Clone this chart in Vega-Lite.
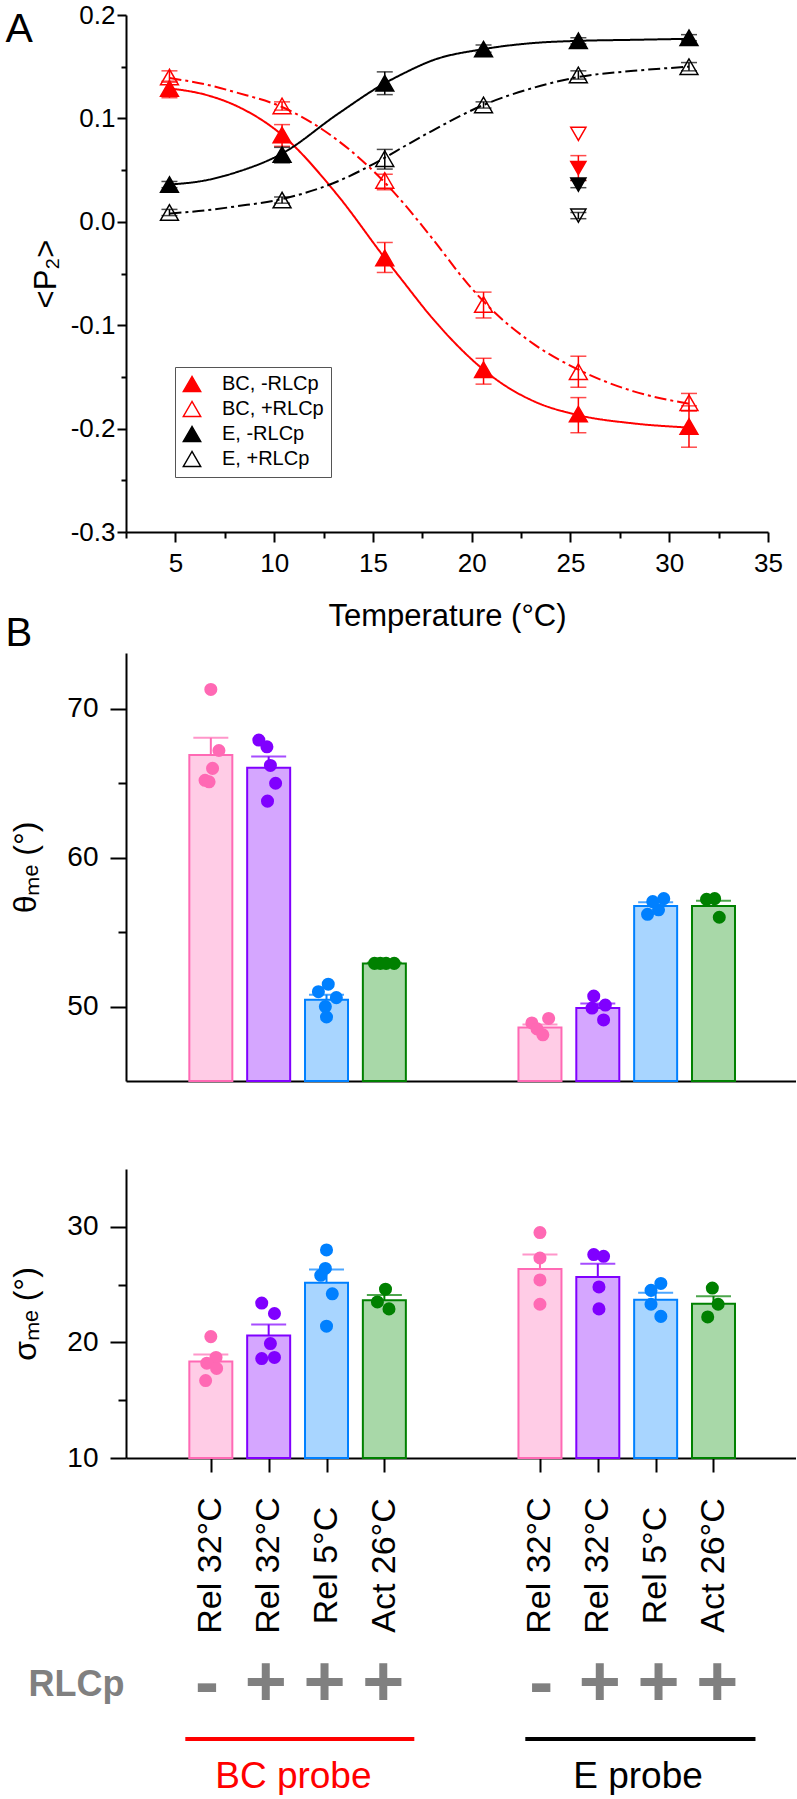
{
 "$schema": "https://vega.github.io/schema/vega-lite/v6.json",
 "padding": {"left": 5, "top": 2, "right": 0, "bottom": 0},
 "background": "white",
 "config": {
  "font": "Liberation Sans",
  "view": {"stroke": null},
  "axis": {"grid": false, "domainColor": "black", "tickColor": "black", "labelColor": "black", "titleColor": "black", "domainWidth": 2, "tickWidth": 2, "titleFontWeight": "normal", "labelFont": "Liberation Sans", "titleFont": "Liberation Sans", "labelFlush": false, "labelOverlap": false}
 },
 "datasets": {
  "curves": [
   {"series": "BC, -RLCp", "t": 4.7, "p": 0.129}, {"series": "BC, -RLCp", "t": 6.5, "p": 0.123}, {"series": "BC, -RLCp", "t": 8.1, "p": 0.112}, {"series": "BC, -RLCp", "t": 10.4, "p": 0.084}, {"series": "BC, -RLCp", "t": 13.2, "p": 0.026}, {"series": "BC, -RLCp", "t": 15.6, "p": -0.035}, {"series": "BC, -RLCp", "t": 16.5, "p": -0.057}, {"series": "BC, -RLCp", "t": 18.0, "p": -0.093}, {"series": "BC, -RLCp", "t": 20.6, "p": -0.143}, {"series": "BC, -RLCp", "t": 21.5, "p": -0.156}, {"series": "BC, -RLCp", "t": 23.2, "p": -0.174}, {"series": "BC, -RLCp", "t": 25.4, "p": -0.187}, {"series": "BC, -RLCp", "t": 28.2, "p": -0.195}, {"series": "BC, -RLCp", "t": 31.0, "p": -0.199},
   {"series": "BC, +RLCp", "t": 4.7, "p": 0.139}, {"series": "BC, +RLCp", "t": 6.5, "p": 0.133}, {"series": "BC, +RLCp", "t": 8.1, "p": 0.125}, {"series": "BC, +RLCp", "t": 10.4, "p": 0.111}, {"series": "BC, +RLCp", "t": 13.2, "p": 0.079}, {"series": "BC, +RLCp", "t": 15.6, "p": 0.038}, {"series": "BC, +RLCp", "t": 16.5, "p": 0.019}, {"series": "BC, +RLCp", "t": 18.0, "p": -0.016}, {"series": "BC, +RLCp", "t": 19.8, "p": -0.06}, {"series": "BC, +RLCp", "t": 20.6, "p": -0.077}, {"series": "BC, +RLCp", "t": 23.2, "p": -0.119}, {"series": "BC, +RLCp", "t": 25.4, "p": -0.143}, {"series": "BC, +RLCp", "t": 28.2, "p": -0.164}, {"series": "BC, +RLCp", "t": 31.0, "p": -0.176},
   {"series": "E, -RLCp", "t": 4.7, "p": 0.036}, {"series": "E, -RLCp", "t": 6.5, "p": 0.04}, {"series": "E, -RLCp", "t": 8.1, "p": 0.048}, {"series": "E, -RLCp", "t": 10.4, "p": 0.066}, {"series": "E, -RLCp", "t": 13.2, "p": 0.104}, {"series": "E, -RLCp", "t": 15.6, "p": 0.134}, {"series": "E, -RLCp", "t": 16.5, "p": 0.143}, {"series": "E, -RLCp", "t": 18.0, "p": 0.156}, {"series": "E, -RLCp", "t": 20.6, "p": 0.167}, {"series": "E, -RLCp", "t": 23.2, "p": 0.173}, {"series": "E, -RLCp", "t": 25.4, "p": 0.175}, {"series": "E, -RLCp", "t": 28.2, "p": 0.176}, {"series": "E, -RLCp", "t": 31.0, "p": 0.177},
   {"series": "E, +RLCp", "t": 4.7, "p": 0.008}, {"series": "E, +RLCp", "t": 6.5, "p": 0.011}, {"series": "E, +RLCp", "t": 8.1, "p": 0.015}, {"series": "E, +RLCp", "t": 10.4, "p": 0.022}, {"series": "E, +RLCp", "t": 13.2, "p": 0.039}, {"series": "E, +RLCp", "t": 15.6, "p": 0.062}, {"series": "E, +RLCp", "t": 16.5, "p": 0.072}, {"series": "E, +RLCp", "t": 18.0, "p": 0.088}, {"series": "E, +RLCp", "t": 20.6, "p": 0.113}, {"series": "E, +RLCp", "t": 23.2, "p": 0.13}, {"series": "E, +RLCp", "t": 25.4, "p": 0.14}, {"series": "E, +RLCp", "t": 28.2, "p": 0.146}, {"series": "E, +RLCp", "t": 31.0, "p": 0.15}
  ],
  "markers": [
   {"series": "BC, -RLCp", "kind": "fit", "t": 4.7, "p": 0.129, "lo": 0.12, "hi": 0.136},
   {"series": "BC, -RLCp", "kind": "fit", "t": 10.4, "p": 0.084, "lo": 0.073, "hi": 0.094},
   {"series": "BC, -RLCp", "kind": "fit", "t": 15.6, "p": -0.035, "lo": -0.049, "hi": -0.02},
   {"series": "BC, -RLCp", "kind": "fit", "t": 20.6, "p": -0.143, "lo": -0.157, "hi": -0.132},
   {"series": "BC, -RLCp", "kind": "fit", "t": 25.4, "p": -0.186, "lo": -0.204, "hi": -0.17},
   {"series": "BC, -RLCp", "kind": "fit", "t": 31.0, "p": -0.198, "lo": -0.218, "hi": -0.178},
   {"series": "BC, +RLCp", "kind": "fit", "t": 4.7, "p": 0.14, "lo": 0.135, "hi": 0.146},
   {"series": "BC, +RLCp", "kind": "fit", "t": 10.4, "p": 0.112, "lo": 0.108, "hi": 0.116},
   {"series": "BC, +RLCp", "kind": "fit", "t": 15.6, "p": 0.04, "lo": 0.031, "hi": 0.046},
   {"series": "BC, +RLCp", "kind": "fit", "t": 20.6, "p": -0.08, "lo": -0.093, "hi": -0.068},
   {"series": "BC, +RLCp", "kind": "fit", "t": 25.4, "p": -0.145, "lo": -0.16, "hi": -0.13},
   {"series": "BC, +RLCp", "kind": "fit", "t": 31.0, "p": -0.175, "lo": -0.183, "hi": -0.166},
   {"series": "E, -RLCp", "kind": "fit", "t": 4.7, "p": 0.036, "lo": 0.033, "hi": 0.039},
   {"series": "E, -RLCp", "kind": "fit", "t": 10.4, "p": 0.065, "lo": 0.057, "hi": 0.072},
   {"series": "E, -RLCp", "kind": "fit", "t": 15.6, "p": 0.134, "lo": 0.123, "hi": 0.145},
   {"series": "E, -RLCp", "kind": "fit", "t": 20.6, "p": 0.167, "lo": 0.164, "hi": 0.171},
   {"series": "E, -RLCp", "kind": "fit", "t": 25.4, "p": 0.175, "lo": 0.172, "hi": 0.178},
   {"series": "E, -RLCp", "kind": "fit", "t": 31.0, "p": 0.178, "lo": 0.175, "hi": 0.181},
   {"series": "E, +RLCp", "kind": "fit", "t": 4.7, "p": 0.009, "lo": 0.006, "hi": 0.012},
   {"series": "E, +RLCp", "kind": "fit", "t": 10.4, "p": 0.021, "lo": 0.018, "hi": 0.024},
   {"series": "E, +RLCp", "kind": "fit", "t": 15.6, "p": 0.061, "lo": 0.051, "hi": 0.07},
   {"series": "E, +RLCp", "kind": "fit", "t": 20.6, "p": 0.113, "lo": 0.11, "hi": 0.116},
   {"series": "E, +RLCp", "kind": "fit", "t": 25.4, "p": 0.142, "lo": 0.138, "hi": 0.146},
   {"series": "E, +RLCp", "kind": "fit", "t": 31.0, "p": 0.15, "lo": 0.146, "hi": 0.154},
   {"series": "BC, -RLCp", "kind": "extra", "t": 25.4, "p": 0.052, "lo": 0.04, "hi": 0.064},
   {"series": "BC, +RLCp", "kind": "extra", "t": 25.4, "p": 0.085, "lo": null, "hi": null},
   {"series": "E, -RLCp", "kind": "extra", "t": 25.4, "p": 0.036, "lo": 0.033, "hi": 0.04},
   {"series": "E, +RLCp", "kind": "extra", "t": 25.4, "p": 0.006, "lo": 0.003, "hi": 0.009}
  ],
  "bars": [
   {"pos": 1, "series": "Rel 32°C, -RLCp", "theta": 66.9, "thetaHi": 68.05, "sigma": 18.35, "sigmaHi": 18.95},
   {"pos": 2, "series": "Rel 32°C, +RLCp", "theta": 66.05, "thetaHi": 66.8, "sigma": 20.6, "sigmaHi": 21.55},
   {"pos": 3, "series": "Rel 5°C, +RLCp", "theta": 50.45, "thetaHi": 50.8, "sigma": 25.15, "sigmaHi": 26.3},
   {"pos": 4, "series": "Act 26°C, +RLCp", "theta": 52.9, "thetaHi": 52.95, "sigma": 23.65, "sigmaHi": 24.1},
   {"pos": 6.69, "series": "Rel 32°C, -RLCp", "theta": 48.6, "thetaHi": 48.8, "sigma": 26.35, "sigmaHi": 27.6},
   {"pos": 7.69, "series": "Rel 32°C, +RLCp", "theta": 49.9, "thetaHi": 50.2, "sigma": 25.65, "sigmaHi": 26.8},
   {"pos": 8.69, "series": "Rel 5°C, +RLCp", "theta": 56.75, "thetaHi": 57.0, "sigma": 23.7, "sigmaHi": 24.3},
   {"pos": 9.69, "series": "Act 26°C, +RLCp", "theta": 56.75, "thetaHi": 57.1, "sigma": 23.35, "sigmaHi": 24.0}
  ],
  "thetaPts": [
   {"series": "Rel 32°C, -RLCp", "x": 1.0, "v": 71.3}, {"series": "Rel 32°C, -RLCp", "x": 1.14, "v": 67.2}, {"series": "Rel 32°C, -RLCp", "x": 1.03, "v": 66.0}, {"series": "Rel 32°C, -RLCp", "x": 0.9, "v": 65.2}, {"series": "Rel 32°C, -RLCp", "x": 0.97, "v": 65.1},
   {"series": "Rel 32°C, +RLCp", "x": 1.83, "v": 67.9}, {"series": "Rel 32°C, +RLCp", "x": 1.97, "v": 67.45}, {"series": "Rel 32°C, +RLCp", "x": 2.03, "v": 66.2}, {"series": "Rel 32°C, +RLCp", "x": 2.12, "v": 65.0}, {"series": "Rel 32°C, +RLCp", "x": 1.98, "v": 63.8},
   {"series": "Rel 5°C, +RLCp", "x": 3.03, "v": 51.5}, {"series": "Rel 5°C, +RLCp", "x": 2.86, "v": 51.0}, {"series": "Rel 5°C, +RLCp", "x": 3.17, "v": 50.6}, {"series": "Rel 5°C, +RLCp", "x": 2.98, "v": 50.0}, {"series": "Rel 5°C, +RLCp", "x": 3.0, "v": 49.3},
   {"series": "Act 26°C, +RLCp", "x": 3.83, "v": 52.9}, {"series": "Act 26°C, +RLCp", "x": 3.93, "v": 52.9}, {"series": "Act 26°C, +RLCp", "x": 4.03, "v": 52.9}, {"series": "Act 26°C, +RLCp", "x": 4.17, "v": 52.9},
   {"series": "Rel 32°C, -RLCp", "x": 6.55, "v": 48.9}, {"series": "Rel 32°C, -RLCp", "x": 6.84, "v": 49.2}, {"series": "Rel 32°C, -RLCp", "x": 6.64, "v": 48.5}, {"series": "Rel 32°C, -RLCp", "x": 6.74, "v": 48.1},
   {"series": "Rel 32°C, +RLCp", "x": 7.62, "v": 50.7}, {"series": "Rel 32°C, +RLCp", "x": 7.82, "v": 50.1}, {"series": "Rel 32°C, +RLCp", "x": 7.59, "v": 49.9}, {"series": "Rel 32°C, +RLCp", "x": 7.79, "v": 49.1},
   {"series": "Rel 5°C, +RLCp", "x": 8.64, "v": 57.05}, {"series": "Rel 5°C, +RLCp", "x": 8.83, "v": 57.25}, {"series": "Rel 5°C, +RLCp", "x": 8.74, "v": 56.5}, {"series": "Rel 5°C, +RLCp", "x": 8.55, "v": 56.2},
   {"series": "Act 26°C, +RLCp", "x": 9.57, "v": 57.2}, {"series": "Act 26°C, +RLCp", "x": 9.71, "v": 57.25}, {"series": "Act 26°C, +RLCp", "x": 9.79, "v": 56.0}
  ],
  "sigmaPts": [
   {"series": "Rel 32°C, -RLCp", "x": 1.0, "v": 20.5}, {"series": "Rel 32°C, -RLCp", "x": 1.09, "v": 18.7}, {"series": "Rel 32°C, -RLCp", "x": 0.93, "v": 18.2}, {"series": "Rel 32°C, -RLCp", "x": 1.1, "v": 17.75}, {"series": "Rel 32°C, -RLCp", "x": 0.91, "v": 16.7},
   {"series": "Rel 32°C, +RLCp", "x": 1.88, "v": 23.4}, {"series": "Rel 32°C, +RLCp", "x": 2.1, "v": 22.5}, {"series": "Rel 32°C, +RLCp", "x": 2.03, "v": 19.9}, {"series": "Rel 32°C, +RLCp", "x": 1.88, "v": 18.6}, {"series": "Rel 32°C, +RLCp", "x": 2.1, "v": 18.7},
   {"series": "Rel 5°C, +RLCp", "x": 3.0, "v": 28.0}, {"series": "Rel 5°C, +RLCp", "x": 2.98, "v": 26.4}, {"series": "Rel 5°C, +RLCp", "x": 2.9, "v": 25.8}, {"series": "Rel 5°C, +RLCp", "x": 3.1, "v": 24.2}, {"series": "Rel 5°C, +RLCp", "x": 3.0, "v": 21.4},
   {"series": "Act 26°C, +RLCp", "x": 4.02, "v": 24.6}, {"series": "Act 26°C, +RLCp", "x": 3.88, "v": 23.5}, {"series": "Act 26°C, +RLCp", "x": 4.08, "v": 22.9},
   {"series": "Rel 32°C, -RLCp", "x": 6.69, "v": 29.5}, {"series": "Rel 32°C, -RLCp", "x": 6.69, "v": 27.3}, {"series": "Rel 32°C, -RLCp", "x": 6.69, "v": 25.4}, {"series": "Rel 32°C, -RLCp", "x": 6.69, "v": 23.3},
   {"series": "Rel 32°C, +RLCp", "x": 7.62, "v": 27.6}, {"series": "Rel 32°C, +RLCp", "x": 7.79, "v": 27.45}, {"series": "Rel 32°C, +RLCp", "x": 7.71, "v": 24.8}, {"series": "Rel 32°C, +RLCp", "x": 7.71, "v": 22.9},
   {"series": "Rel 5°C, +RLCp", "x": 8.78, "v": 25.1}, {"series": "Rel 5°C, +RLCp", "x": 8.61, "v": 24.5}, {"series": "Rel 5°C, +RLCp", "x": 8.61, "v": 23.3}, {"series": "Rel 5°C, +RLCp", "x": 8.78, "v": 22.25},
   {"series": "Act 26°C, +RLCp", "x": 9.67, "v": 24.7}, {"series": "Act 26°C, +RLCp", "x": 9.77, "v": 23.3}, {"series": "Act 26°C, +RLCp", "x": 9.59, "v": 22.2}
  ],
  "signs": [
   {"pos": 1, "row": "RLCp", "sign": "-"}, {"pos": 2, "row": "RLCp", "sign": "+"}, {"pos": 3, "row": "RLCp", "sign": "+"}, {"pos": 4, "row": "RLCp", "sign": "+"},
   {"pos": 6.69, "row": "RLCp", "sign": "-"}, {"pos": 7.69, "row": "RLCp", "sign": "+"}, {"pos": 8.69, "row": "RLCp", "sign": "+"}, {"pos": 9.69, "row": "RLCp", "sign": "+"}
  ],
  "probes": [
   {"series": "BC probe", "row": "probe", "start": 0.63, "end": 4.53, "center": 2.47},
   {"series": "E probe", "row": "probe", "start": 6.42, "end": 10.34, "center": 8.34}
  ]
 },
 "bounds": "flush",
 "spacing": 121,
 "vconcat": [
  {
   "width": 642, "height": 517,
   "resolve": {"axis": {"x": "independent", "y": "independent"}},
   "layer": [
    {
     "data": {"name": "curves"},
     "mark": {"type": "line", "interpolate": "monotone", "strokeWidth": 2},
     "encoding": {
      "x": {"field": "t", "type": "quantitative", "scale": {"domain": [2.5, 35], "nice": false, "zero": false}, "axis": {"values": [5, 10, 15, 20, 25, 30, 35], "tickSize": 10, "labelFontSize": 26, "labelPadding": 8, "title": "Temperature (°C)", "titleFontSize": 31, "titlePadding": 25}},
      "y": {"field": "p", "type": "quantitative", "scale": {"domain": [-0.3, 0.2], "nice": false, "zero": false}, "axis": {"values": [-0.3, -0.2, -0.1, 0, 0.1, 0.2], "labelExpr": "(datum.value < 0 ? '-' : '') + format(abs(datum.value), '.1f')", "tickSize": 9, "labelFontSize": 26, "labelPadding": 2, "title": "<P₂>", "titleFontSize": 31, "titlePadding": 8}},
      "color": {"field": "series", "type": "nominal", "scale": {"domain": ["BC, -RLCp", "BC, +RLCp", "E, -RLCp", "E, +RLCp", "Rel 32°C, -RLCp", "Rel 32°C, +RLCp", "Rel 5°C, +RLCp", "Act 26°C, +RLCp", "BC probe", "E probe"], "range": ["#FF0000", "#FF0000", "#000000", "#000000", "#FF69B4", "#8000FF", "#0080FF", "#008000", "#FF0000", "#000000"]}, "legend": null},
      "strokeDash": {"field": "series", "type": "nominal", "scale": {"domain": ["BC, -RLCp", "BC, +RLCp", "E, -RLCp", "E, +RLCp"], "range": [[1, 0], [12, 4, 3, 4], [1, 0], [12, 4, 3, 4]]}, "legend": null}
     }
    },
    {
     "data": {"name": "markers"},
     "mark": {"type": "rule", "strokeWidth": 1.5},
     "encoding": {
      "x": {"field": "t", "type": "quantitative", "axis": {"values": [2.5, 7.5, 12.5, 17.5, 22.5, 27.5, 32.5], "orient": "bottom", "tickSize": 6, "labels": false, "domain": false, "title": null}},
      "y": {"field": "lo", "type": "quantitative", "axis": {"values": [-0.25, -0.15, -0.05, 0.05, 0.15], "orient": "left", "tickSize": 5, "labels": false, "domain": false, "title": "A", "titleAngle": 0, "titleAlign": "left", "titleBaseline": "alphabetic", "titleFontSize": 41, "titleX": -121, "titleY": 26}},
      "y2": {"field": "hi"},
      "color": {"field": "series", "type": "nominal", "legend": null}
     }
    },
    {
     "data": {"name": "markers"},
     "mark": {"type": "tick", "orient": "horizontal", "size": 16, "thickness": 1.5},
     "encoding": {
      "x": {"field": "t", "type": "quantitative", "axis": null},
      "y": {"field": "lo", "type": "quantitative", "axis": null},
      "color": {"field": "series", "type": "nominal", "legend": null}
     }
    },
    {
     "data": {"name": "markers"},
     "mark": {"type": "tick", "orient": "horizontal", "size": 16, "thickness": 1.5},
     "encoding": {
      "x": {"field": "t", "type": "quantitative", "axis": null},
      "y": {"field": "hi", "type": "quantitative", "axis": null},
      "color": {"field": "series", "type": "nominal", "legend": null}
     }
    },
    {
     "data": {"name": "markers"},
     "transform": [{"filter": "datum.kind == 'fit'"}],
     "mark": {"type": "point", "shape": "triangle-up", "size": 320, "strokeWidth": 1.5, "opacity": 1},
     "encoding": {
      "x": {"field": "t", "type": "quantitative", "axis": null},
      "y": {"field": "p", "type": "quantitative", "axis": null},
      "fill": {"field": "series", "type": "nominal", "scale": {"domain": ["BC, -RLCp", "BC, +RLCp", "E, -RLCp", "E, +RLCp", "Rel 32°C, -RLCp", "Rel 32°C, +RLCp", "Rel 5°C, +RLCp", "Act 26°C, +RLCp"], "range": ["#FF0000", "transparent", "#000000", "transparent", "#FFCCE6", "#D5A6FF", "#A8D5FF", "#A8D8A8"]}, "legend": {"values": ["BC, -RLCp", "BC, +RLCp", "E, -RLCp", "E, +RLCp"], "title": null, "orient": "none", "legendX": 49, "legendY": 352, "symbolType": "triangle-up", "symbolSize": 300, "symbolStrokeWidth": 1.5, "labelFontSize": 20, "labelFont": "Liberation Sans", "labelColor": "black", "labelOffset": 20, "rowPadding": 3, "padding": 7, "strokeColor": "#555555", "fillColor": "white"}},
      "stroke": {"field": "series", "type": "nominal", "scale": {"domain": ["BC, -RLCp", "BC, +RLCp", "E, -RLCp", "E, +RLCp", "Rel 32°C, -RLCp", "Rel 32°C, +RLCp", "Rel 5°C, +RLCp", "Act 26°C, +RLCp"], "range": ["#FF0000", "#FF0000", "#000000", "#000000", "#FF69B4", "#8000FF", "#0080FF", "#008000"]}, "legend": {"values": ["BC, -RLCp", "BC, +RLCp", "E, -RLCp", "E, +RLCp"], "title": null, "orient": "none", "legendX": 49, "legendY": 352, "symbolType": "triangle-up", "symbolSize": 300, "symbolStrokeWidth": 1.5, "labelFontSize": 20, "labelFont": "Liberation Sans", "labelColor": "black", "labelOffset": 20, "rowPadding": 3, "padding": 7, "strokeColor": "#555555", "fillColor": "white"}}
     }
    },
    {
     "data": {"name": "markers"},
     "transform": [{"filter": "datum.kind == 'extra'"}],
     "mark": {"type": "point", "shape": "triangle-down", "size": 230, "strokeWidth": 1.5, "opacity": 1},
     "encoding": {
      "x": {"field": "t", "type": "quantitative", "axis": null},
      "y": {"field": "p", "type": "quantitative", "axis": null},
      "fill": {"field": "series", "type": "nominal", "legend": {"values": ["BC, -RLCp", "BC, +RLCp", "E, -RLCp", "E, +RLCp"], "title": null, "orient": "none", "legendX": 49, "legendY": 352, "symbolType": "triangle-up", "symbolSize": 300, "symbolStrokeWidth": 1.5, "labelFontSize": 20, "labelFont": "Liberation Sans", "labelColor": "black", "labelOffset": 20, "rowPadding": 3, "padding": 7, "strokeColor": "#555555", "fillColor": "white"}},
      "stroke": {"field": "series", "type": "nominal", "legend": {"values": ["BC, -RLCp", "BC, +RLCp", "E, -RLCp", "E, +RLCp"], "title": null, "orient": "none", "legendX": 49, "legendY": 352, "symbolType": "triangle-up", "symbolSize": 300, "symbolStrokeWidth": 1.5, "labelFontSize": 20, "labelFont": "Liberation Sans", "labelColor": "black", "labelOffset": 20, "rowPadding": 3, "padding": 7, "strokeColor": "#555555", "fillColor": "white"}}
     }
    }
   ]
  },
  {
   "bounds": "flush",
   "spacing": 88,
   "vconcat": [
    {
     "width": 670, "height": 428,
     "resolve": {"axis": {"x": "independent", "y": "independent"}},
     "layer": [
      {
       "data": {"name": "bars"},
       "mark": {"type": "bar", "width": 43, "strokeWidth": 2},
       "encoding": {
        "x": {"field": "pos", "type": "quantitative", "scale": {"domain": [-0.38, 11.03], "nice": false, "zero": false}, "axis": {"ticks": false, "labels": false, "title": null}},
        "y": {"field": "theta", "type": "quantitative", "scale": {"domain": [45, 73.75], "nice": false, "zero": false}, "axis": {"values": [50, 60, 70], "tickSize": 16, "labelFontSize": 28, "labelPadding": 12, "title": "θₘₑ (°)", "titleFontSize": 32, "titlePadding": 24}},
        "y2": {"datum": 45},
        "fill": {"field": "series", "type": "nominal", "legend": null},
        "stroke": {"field": "series", "type": "nominal", "legend": null}
       }
      },
      {
       "data": {"name": "bars"},
       "mark": {"type": "rule", "strokeWidth": 2},
       "encoding": {
        "x": {"field": "pos", "type": "quantitative", "axis": null},
        "y": {"field": "theta", "type": "quantitative", "axis": {"values": [55, 65], "orient": "left", "tickSize": 8, "labels": false, "domain": false, "title": "B", "titleAngle": 0, "titleAlign": "left", "titleBaseline": "alphabetic", "titleFontSize": 40, "titleX": -121, "titleY": -8}},
        "y2": {"field": "thetaHi"},
        "color": {"field": "series", "type": "nominal", "legend": null}
       }
      },
      {
       "data": {"name": "bars"},
       "mark": {"type": "tick", "orient": "horizontal", "size": 35, "thickness": 2},
       "encoding": {
        "x": {"field": "pos", "type": "quantitative", "axis": null},
        "y": {"field": "thetaHi", "type": "quantitative", "axis": null},
        "color": {"field": "series", "type": "nominal", "legend": null}
       }
      },
      {
       "data": {"name": "thetaPts"},
       "mark": {"type": "circle", "size": 170, "opacity": 1},
       "encoding": {
        "x": {"field": "x", "type": "quantitative", "axis": null},
        "y": {"field": "v", "type": "quantitative", "axis": null},
        "color": {"field": "series", "type": "nominal", "legend": null}
       }
      }
     ]
    },
    {
     "bounds": "flush",
     "spacing": 226,
     "vconcat": [
      {
       "width": 670, "height": 289,
       "resolve": {"axis": {"x": "independent", "y": "independent"}},
       "layer": [
        {
         "data": {"name": "bars"},
         "mark": {"type": "bar", "width": 43, "strokeWidth": 2},
         "encoding": {
          "x": {"field": "pos", "type": "quantitative", "scale": {"domain": [-0.38, 11.03], "nice": false, "zero": false}, "axis": {"values": [1, 2, 3, 4, 6.69, 7.69, 8.69, 9.69], "tickSize": 14, "labelAngle": 270, "labelAlign": "center", "labelBaseline": "middle", "labelFontSize": 34, "labelPadding": 93, "title": null, "labelExpr": "datum.value < 2.5 || (datum.value > 6 && datum.value < 8.2) ? 'Rel 32°C' : ((datum.value > 2.5 && datum.value < 3.5) || (datum.value > 8.2 && datum.value < 9.2) ? 'Rel 5°C' : 'Act 26°C')"}},
          "y": {"field": "sigma", "type": "quantitative", "scale": {"domain": [10, 35], "nice": false, "zero": false}, "axis": {"values": [10, 20, 30], "tickSize": 16, "labelFontSize": 28, "labelPadding": 12, "title": "σₘₑ (°)", "titleFontSize": 32, "titlePadding": 24}},
          "y2": {"datum": 10},
          "fill": {"field": "series", "type": "nominal", "legend": null},
          "stroke": {"field": "series", "type": "nominal", "legend": null}
         }
        },
        {
         "data": {"name": "bars"},
         "mark": {"type": "rule", "strokeWidth": 2},
         "encoding": {
          "x": {"field": "pos", "type": "quantitative", "axis": null},
          "y": {"field": "sigma", "type": "quantitative", "axis": {"values": [15, 25], "orient": "left", "tickSize": 8, "labels": false, "domain": false, "title": null}},
          "y2": {"field": "sigmaHi"},
          "color": {"field": "series", "type": "nominal", "legend": null}
         }
        },
        {
         "data": {"name": "bars"},
         "mark": {"type": "tick", "orient": "horizontal", "size": 35, "thickness": 2},
         "encoding": {
          "x": {"field": "pos", "type": "quantitative", "axis": null},
          "y": {"field": "sigmaHi", "type": "quantitative", "axis": null},
          "color": {"field": "series", "type": "nominal", "legend": null}
         }
        },
        {
         "data": {"name": "sigmaPts"},
         "mark": {"type": "circle", "size": 170, "opacity": 1},
         "encoding": {
          "x": {"field": "x", "type": "quantitative", "axis": null},
          "y": {"field": "v", "type": "quantitative", "axis": null},
          "color": {"field": "series", "type": "nominal", "legend": null}
         }
        }
       ]
      },
      {
       "width": 670, "height": 55,
       "layer": [
        {
         "data": {"name": "signs"},
         "mark": {"type": "text", "fontSize": 72, "fontWeight": "bold", "color": "#808080", "baseline": "middle", "align": "center"},
         "encoding": {
          "x": {"field": "pos", "type": "quantitative", "scale": {"domain": [-0.38, 11.03], "nice": false, "zero": false}, "axis": null},
          "y": {"field": "row", "type": "ordinal", "scale": {"type": "point", "domain": ["RLCp", "probe"], "padding": 0}, "axis": {"title": null, "domain": false, "ticks": false, "labelFontSize": 36, "labelFontWeight": "bold", "labelColor": "#808080", "labelPadding": 2, "labelExpr": "datum.value == 'RLCp' ? 'RLCp' : ''"}},
          "text": {"field": "sign"}
         }
        },
        {
         "data": {"name": "probes"},
         "mark": {"type": "rule", "strokeWidth": 4},
         "encoding": {
          "x": {"field": "start", "type": "quantitative"},
          "x2": {"field": "end"},
          "y": {"field": "row", "type": "ordinal"},
          "color": {"field": "series", "type": "nominal", "legend": null}
         }
        },
        {
         "data": {"name": "probes"},
         "mark": {"type": "text", "fontSize": 37, "baseline": "alphabetic", "align": "center", "dy": 49},
         "encoding": {
          "x": {"field": "center", "type": "quantitative"},
          "y": {"field": "row", "type": "ordinal"},
          "text": {"field": "series"},
          "color": {"field": "series", "type": "nominal", "legend": null}
         }
        }
       ]
      }
     ]
    }
   ]
  }
 ]
}
